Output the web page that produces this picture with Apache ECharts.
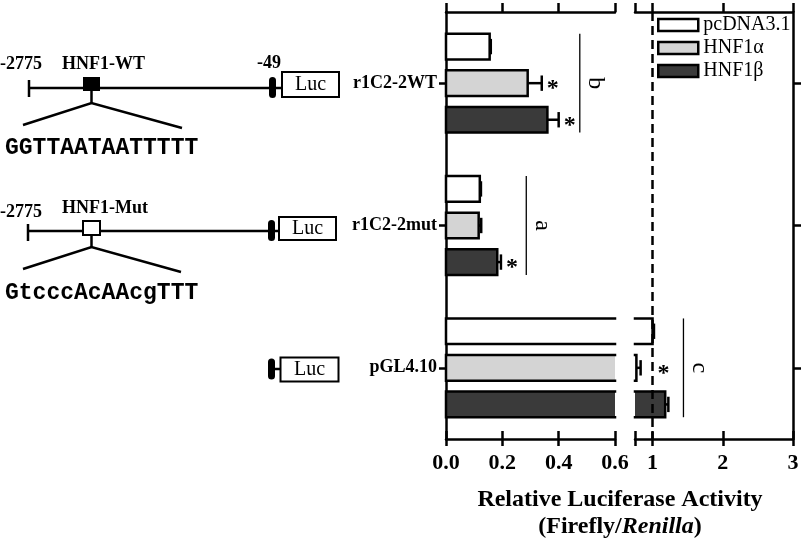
<!DOCTYPE html>
<html>
<head>
<meta charset="utf-8">
<script src="https://cdn.jsdelivr.net/npm/echarts@6/dist/echarts.min.js"></script>
<style>
html, body { margin: 0; padding: 0; background: #fff; }
#chart { width: 806px; height: 539px; }
</style>
</head>
<body>
<div id="chart"></div>
<script>
// constructs on the y axis, top to bottom
const constructs = ['r1C2-2WT', 'r1C2-2mut', 'pGL4.10']
const groups = ['pcDNA3.1', 'HNF1α', 'HNF1β']

// relative luciferase activity (Firefly/Renilla), mean and error
const pcdnaValues = [0.155, 0.12, 1.0]
const pcdnaErrors = [0.004, 0.004, 0.02]
const hnf1aValues = [0.29, 0.116, 0.77]
const hnf1aErrors = [0.05, 0.009, 0.06]
const hnf1bValues = [0.36, 0.182, 1.18]
const hnf1bErrors = [0.04, 0.013, 0.045]
const hnf1aStars = [true, false, true]
const hnf1bStars = [true, true, false]

// broken x axis: two segments
const leftTicks = [0, 0.2, 0.4, 0.6]
const rightTicks = [1, 2, 3]
const rightTickMarks = [0.75, 1, 2, 3]

// significance brackets (letter, x value, segment)
const sigLetters = ['b', 'a', 'c']
const sigX = [0.475, 0.285, 1.44]
const sigSegment = [0, 0, 1]

const fills = ['#ffffff', '#d4d4d4', '#3a3a3a']
const serif = '"Liberation Serif", "Times New Roman", serif'
const barFrac = 0.18
const stepFrac = 0.257
const lw = 2.5

const chart = echarts.init(document.getElementById('chart'), null, { renderer: 'canvas' })

const barRenderer = (groupIndex) => (params, api) => {
  const cat = api.value(0)
  const val = api.value(1)
  const err = api.value(2)
  const star = api.value(3)
  const band = api.size([0, 1])[1]
  const h = band * barFrac
  const cs = params.coordSys
  const base = api.coord([0, cat])
  const yc = base[1] + (groupIndex - 1) * band * stepFrac
  const x0 = base[0]
  const x1 = api.coord([val, cat])[0]
  const xe = api.coord([val + err, cat])[0]
  const left = cs.x
  const right = cs.x + cs.width
  const a = Math.max(x0, left)
  const b = Math.min(x1, right)
  const top = yc - h / 2
  const bot = yc + h / 2
  const stroke = { stroke: '#000', lineWidth: lw, fill: null, lineCap: 'square', lineJoin: 'miter' }
  const children = []
  if (b > a) {
    children.push({ type: 'rect', shape: { x: a, y: top, width: b - a, height: h }, style: { fill: fills[groupIndex] } })
    const leftOpen = x0 < left
    const rightOpen = x1 > right
    if (!leftOpen && !rightOpen) {
      children.push({ type: 'rect', shape: { x: a, y: top, width: b - a, height: h }, style: stroke })
    } else if (leftOpen && !rightOpen) {
      children.push({ type: 'polyline', shape: { points: [[a, top], [b, top], [b, bot], [a, bot]] }, style: stroke })
    } else if (!leftOpen && rightOpen) {
      children.push({ type: 'polyline', shape: { points: [[b, top], [a, top], [a, bot], [b, bot]] }, style: stroke })
    } else {
      children.push({ type: 'line', shape: { x1: a, y1: top, x2: b, y2: top }, style: stroke })
      children.push({ type: 'line', shape: { x1: a, y1: bot, x2: b, y2: bot }, style: stroke })
    }
  }
  if (x1 <= right && xe >= left) {
    const ea = Math.max(x1, left)
    const eb = Math.min(xe, right)
    children.push({ type: 'line', shape: { x1: ea, y1: yc, x2: eb, y2: yc }, style: { stroke: '#000', lineWidth: lw } })
    if (xe <= right) {
      children.push({ type: 'line', shape: { x1: xe, y1: yc - h * 0.3, x2: xe, y2: yc + h * 0.3 }, style: { stroke: '#000', lineWidth: lw } })
    }
    if (star && xe <= right) {
      let xs = xe + 11
      const dashX = api.coord([1, cat])[0]
      if (Math.abs(xs - dashX) < 8) xs = dashX + 11
      children.push({
        type: 'text', x: xs, y: yc + 6,
        style: { text: '*', font: 'bold 24px ' + serif, fill: '#000', align: 'center', verticalAlign: 'middle' }
      })
    }
  }
  return { type: 'group', children }
}

const sigRenderer = (params, api) => {
  const cat = api.value(0)
  const x = api.coord([api.value(1), cat])[0]
  const yc = api.coord([api.value(1), cat])[1]
  const band = api.size([0, 1])[1]
  const half = band * (stepFrac + barFrac / 2)
  return {
    type: 'group',
    children: [
      { type: 'line', shape: { x1: x, y1: yc - half, x2: x, y2: yc + half }, style: { stroke: '#000', lineWidth: 1.3 } },
      {
        type: 'text', x: x + 16, y: yc, rotation: -Math.PI / 2,
        style: { text: sigLetters[api.value(2)], font: '24px ' + serif, fill: '#000', align: 'center', verticalAlign: 'middle' }
      }
    ]
  }
}

const groupData = [
  [pcdnaValues, pcdnaErrors, [false, false, false]],
  [hnf1aValues, hnf1aErrors, hnf1aStars],
  [hnf1bValues, hnf1bErrors, hnf1bStars]
]

const series = []
;[0, 3].forEach((xIdx, seg) => {
  groups.forEach((name, k) => {
    const [vals, errs, stars] = groupData[k]
    series.push({
      type: 'custom',
      name,
      xAxisIndex: xIdx,
      yAxisIndex: seg,
      encode: { x: 1, y: 0 },
      itemStyle: { color: fills[k], borderColor: '#000', borderWidth: lw },
      renderItem: barRenderer(k),
      data: constructs.map((c, i) => [i, vals[i], errs[i], stars[i] ? 1 : 0]),
      z: 3
    })
  })
  series.push({
    type: 'custom',
    name: 'sig' + seg,
    xAxisIndex: xIdx,
    yAxisIndex: seg,
    encode: { x: 1, y: 0 },
    renderItem: sigRenderer,
    data: sigLetters.map((l, i) => [i, sigX[i], i]).filter((d, i) => sigSegment[i] === seg),
    z: 3
  })
})

series.push({
  type: 'line',
  name: 'ref',
  xAxisIndex: 3,
  yAxisIndex: 1,
  data: [],
  markLine: {
    silent: true,
    symbol: ['none', 'none'],
    label: { show: false },
    lineStyle: { color: '#000', width: lw, type: [9, 5] },
    data: [{ xAxis: 1 }]
  },
  z: 2
})

const axisLine = { show: true, lineStyle: { color: '#000', width: lw } }
const tickStyle = { color: '#000', width: lw }
const tickLabel = { show: true, color: '#000', fontFamily: serif, fontWeight: 'bold', fontSize: 22, margin: 13 }

const leftScale = { type: 'value', min: 0, max: 0.6, interval: 0.2, splitLine: { show: false } }
const rightScale = { type: 'value', min: 0.75, max: 3, splitLine: { show: false } }

const option = {
  animation: false,
  backgroundColor: '#fff',
  grid: [
    { left: 446, top: 12, width: 169, height: 427 },
    { left: 635, top: 12, width: 158, height: 427 }
  ],
  xAxis: [
    Object.assign({}, leftScale, {
      gridIndex: 0, position: 'bottom', axisLine,
      axisTick: { show: true, inside: true, length: 8, lineStyle: tickStyle },
      axisLabel: Object.assign({ formatter: (v) => v.toFixed(1) }, tickLabel)
    }),
    Object.assign({}, leftScale, {
      gridIndex: 0, position: 'bottom', axisLine: { show: false },
      axisTick: { show: true, length: 7, lineStyle: tickStyle }, axisLabel: { show: false }
    }),
    Object.assign({}, leftScale, {
      gridIndex: 0, position: 'top', axisLine,
      axisTick: { show: true, length: 9, lineStyle: tickStyle }, axisLabel: { show: false }
    }),
    Object.assign({}, rightScale, {
      gridIndex: 1, position: 'bottom', axisLine,
      axisTick: { show: true, inside: true, length: 8, lineStyle: tickStyle, customValues: rightTickMarks },
      axisLabel: Object.assign({ customValues: rightTicks, formatter: (v) => String(v) }, tickLabel)
    }),
    Object.assign({}, rightScale, {
      gridIndex: 1, position: 'bottom', axisLine: { show: false },
      axisTick: { show: true, length: 7, lineStyle: tickStyle, customValues: rightTickMarks }, axisLabel: { show: false }
    }),
    Object.assign({}, rightScale, {
      gridIndex: 1, position: 'top', axisLine,
      axisTick: { show: true, length: 9, lineStyle: tickStyle, customValues: rightTickMarks }, axisLabel: { show: false }
    })
  ],
  yAxis: [
    {
      type: 'category', gridIndex: 0, data: constructs, inverse: true, position: 'left',
      axisLine, axisTick: { show: true, alignWithLabel: true, length: 7, lineStyle: tickStyle },
      axisLabel: { show: true, color: '#000', fontFamily: serif, fontWeight: 'bold', fontSize: 18, margin: 9 },
      splitLine: { show: false }
    },
    {
      type: 'category', gridIndex: 1, data: constructs, inverse: true, position: 'right',
      axisLine, axisTick: { show: true, alignWithLabel: true, length: 8, lineStyle: tickStyle },
      axisLabel: { show: false }, splitLine: { show: false }
    }
  ],
  legend: {
    orient: 'vertical',
    left: 652,
    top: 10,
    itemWidth: 40,
    itemHeight: 12,
    itemGap: 3,
    selectedMode: false,
    textStyle: { color: '#000', fontFamily: serif, fontSize: 20 },
    data: groups.map((g, i) => ({
      name: g, icon: 'rect',
      itemStyle: { color: fills[i], borderColor: '#000', borderWidth: lw, opacity: 1 },
      textStyle: { color: '#000' }
    }))
  },
  graphic: [
    // axis title
    {
      type: 'text', x: 620, y: 500,
      style: { text: 'Relative Luciferase Activity', font: 'bold 24px ' + serif, fill: '#000', align: 'center', verticalAlign: 'middle' }
    },
    {
      type: 'text', x: 620, y: 527,
      style: {
        text: '{n|(Firefly/}{i|Renilla}{n|)}', align: 'center', verticalAlign: 'middle',
        rich: {
          n: { font: 'bold 24px ' + serif, fill: '#000' },
          i: { font: 'italic bold 24px ' + serif, fill: '#000' }
        }
      }
    },
    // WT construct
    { type: 'line', shape: { x1: 28, y1: 88, x2: 281, y2: 88 }, style: { stroke: '#000', lineWidth: lw } },
    { type: 'line', shape: { x1: 29, y1: 80, x2: 29, y2: 97 }, style: { stroke: '#000', lineWidth: lw } },
    { type: 'rect', shape: { x: 83, y: 77, width: 17, height: 14 }, style: { fill: '#000' } },
    { type: 'polyline', shape: { points: [[91.5, 91], [91.5, 103]] }, style: { stroke: '#000', lineWidth: lw } },
    { type: 'polyline', shape: { points: [[23, 125], [91.5, 103], [182, 128]] }, style: { stroke: '#000', lineWidth: lw, fill: null } },
    { type: 'rect', shape: { x: 269, y: 77, width: 7, height: 21, r: 3.5 }, style: { fill: '#000' } },
    { type: 'rect', shape: { x: 282, y: 72, width: 57, height: 25 }, style: { fill: '#fff', stroke: '#000', lineWidth: 2 } },
    { type: 'text', x: 310.5, y: 85, style: { text: 'Luc', font: '20px ' + serif, fill: '#000', align: 'center', verticalAlign: 'middle' } },
    { type: 'text', x: 0, y: 64, style: { text: '-2775', font: 'bold 18px ' + serif, fill: '#000', verticalAlign: 'middle' } },
    { type: 'text', x: 62, y: 64, style: { text: 'HNF1-WT', font: 'bold 18px ' + serif, fill: '#000', verticalAlign: 'middle' } },
    { type: 'text', x: 257, y: 63, style: { text: '-49', font: 'bold 18px ' + serif, fill: '#000', verticalAlign: 'middle' } },
    { type: 'text', x: 5, y: 148, style: { text: 'GGTTAATAATTTTT', font: 'bold 23px "Liberation Mono", monospace', fill: '#000', verticalAlign: 'middle' } },
    // mutant construct
    { type: 'line', shape: { x1: 28, y1: 231, x2: 279, y2: 231 }, style: { stroke: '#000', lineWidth: lw } },
    { type: 'line', shape: { x1: 28, y1: 224, x2: 28, y2: 241 }, style: { stroke: '#000', lineWidth: lw } },
    { type: 'rect', shape: { x: 83, y: 221, width: 17, height: 14 }, style: { fill: '#fff', stroke: '#000', lineWidth: 2 } },
    { type: 'polyline', shape: { points: [[91.5, 235], [91.5, 247]] }, style: { stroke: '#000', lineWidth: lw } },
    { type: 'polyline', shape: { points: [[23, 269], [91.5, 247], [181, 272]] }, style: { stroke: '#000', lineWidth: lw, fill: null } },
    { type: 'rect', shape: { x: 268, y: 220, width: 7, height: 21, r: 3.5 }, style: { fill: '#000' } },
    { type: 'rect', shape: { x: 279, y: 217, width: 57, height: 23 }, style: { fill: '#fff', stroke: '#000', lineWidth: 2 } },
    { type: 'text', x: 307.5, y: 229, style: { text: 'Luc', font: '20px ' + serif, fill: '#000', align: 'center', verticalAlign: 'middle' } },
    { type: 'text', x: 0, y: 212, style: { text: '-2775', font: 'bold 18px ' + serif, fill: '#000', verticalAlign: 'middle' } },
    { type: 'text', x: 62, y: 208, style: { text: 'HNF1-Mut', font: 'bold 18px ' + serif, fill: '#000', verticalAlign: 'middle' } },
    { type: 'text', x: 5, y: 293, style: { text: 'GtcccAcAAcgTTT', font: 'bold 23px "Liberation Mono", monospace', fill: '#000', verticalAlign: 'middle' } },
    // empty vector
    { type: 'rect', shape: { x: 268, y: 358.5, width: 7, height: 21, r: 3.5 }, style: { fill: '#000' } },
    { type: 'line', shape: { x1: 274, y1: 369, x2: 281, y2: 369 }, style: { stroke: '#000', lineWidth: lw } },
    { type: 'rect', shape: { x: 280.5, y: 357.5, width: 58, height: 24 }, style: { fill: '#fff', stroke: '#000', lineWidth: 2 } },
    { type: 'text', x: 309.5, y: 370, style: { text: 'Luc', font: '20px ' + serif, fill: '#000', align: 'center', verticalAlign: 'middle' } }
  ],
  series
}

chart.setOption(option)
</script>
</body>
</html>
